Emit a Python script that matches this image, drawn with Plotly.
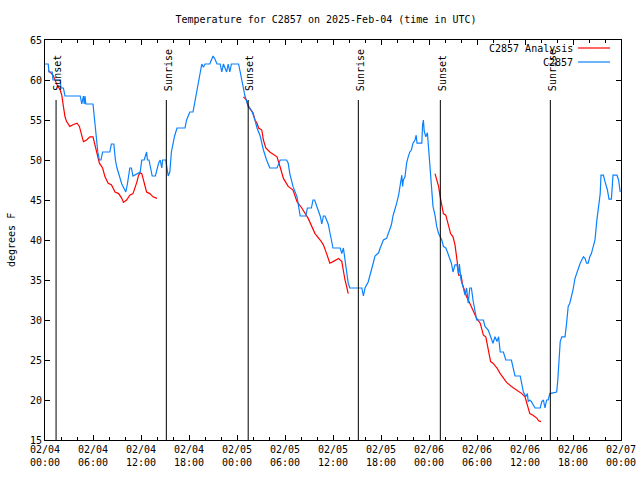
import pandas as pd
import plotly.graph_objects as go

BASE = pd.Timestamp("2025-02-04 00:00")

# Station observations (hours since 2025-02-04 00:00 UTC, degrees F)
obs_hours = [0, 0.4, 0.5, 0.9, 1.0, 1.9, 2.0, 2.3, 2.5, 4.4, 4.6, 4.8, 4.9, 5.0, 5.1, 6.0, 6.2, 6.4, 6.6, 6.8,
             7.0, 7.2, 8.1, 8.3, 8.6, 8.8, 9.0, 9.3, 9.6, 10.1, 10.3, 10.6, 10.8, 11.0, 11.9, 12.1, 12.4, 12.7, 12.8, 13.0,
             13.4, 13.8, 14.2, 14.4, 14.6, 14.7, 15.1, 15.4, 15.6, 15.8, 16.0, 16.2, 16.5, 17.5, 17.7, 18.1, 18.5, 18.75, 19.0, 19.2,
             19.4, 19.6, 19.8, 20.0, 20.6, 20.8, 21.0, 21.25, 21.5, 21.9, 22.1, 22.3, 22.7, 22.9, 23.1, 23.3, 24.2, 24.4, 24.6, 24.8,
             25.0, 25.3, 25.6, 25.9, 26.25, 26.5, 26.9, 27.1, 27.3, 27.7, 28.1, 29.0, 29.4, 30.2, 30.4, 30.6, 31.0, 31.5, 31.9, 32.6,
             32.8, 33.3, 33.5, 33.7, 33.9, 34.4, 34.6, 34.8, 35.0, 35.4, 35.6, 35.8, 36.0, 36.9, 37.1, 37.3, 37.5, 37.7, 37.9, 38.1,
             39.6, 39.8, 40.0, 40.4, 40.6, 40.8, 41.0, 41.25, 41.7, 41.9, 42.3, 42.7, 42.9, 43.1, 43.3, 43.5, 43.75, 43.96, 44.2, 44.4,
             44.5, 44.6, 44.7, 44.8, 45.0, 45.2, 45.4, 45.6, 45.8, 46.0, 46.25, 46.4, 46.5, 47.1, 47.2, 47.3, 47.4, 47.6, 47.8, 47.9,
             48.0, 48.2, 48.3, 48.5, 48.75, 48.96, 49.2, 49.6, 49.8, 50.1, 50.3, 50.5, 50.8, 51.0, 51.25, 51.5, 51.7, 51.8, 52.0, 52.3,
             52.5, 52.7, 52.9, 53.1, 53.3, 53.5, 53.75, 53.96, 54.8, 55.0, 55.4, 55.6, 56.0, 56.25, 56.5, 56.7, 56.9, 57.3, 57.6, 58.3,
             58.5, 58.75, 59.4, 59.6, 59.8, 60.1, 60.3, 60.4, 60.6, 60.8, 61.25, 61.9, 62.1, 62.3, 62.5, 62.7, 62.9, 63.1, 63.96, 64.1,
             64.2, 64.4, 64.6, 65.0, 65.2, 65.4, 65.6, 65.8, 66.0, 66.25, 66.5, 66.7, 66.9, 67.1, 67.3, 67.5, 67.7, 67.9, 68.1, 68.3,
             68.5, 68.75, 68.96, 69.2, 69.4, 69.5, 69.8, 70.0, 70.3, 70.5, 70.8, 71.0, 71.5, 71.7, 71.9]
obs_temps = [62, 62, 61, 61, 60, 60, 59, 59, 58, 58, 57, 58, 57, 58, 57, 57, 55, 53, 51, 50,
             50, 51, 51, 52, 52, 50, 49, 48, 47, 46, 47, 49, 49, 48, 48.5, 50, 50, 51, 50, 50,
             48, 48, 49.6, 50, 49, 50, 50, 48, 48.5, 51, 52, 53, 54, 54, 55, 56, 56, 57.3, 59, 60,
             61, 62, 61.6, 62, 62, 62.6, 63, 62.6, 62, 62, 61, 62, 61, 62, 61, 62, 62, 61, 60, 59,
             58, 57, 56.5, 56, 55, 54, 53, 52, 51.25, 50, 49, 49, 50, 50, 49.6, 48.3, 46.7, 45.4, 43, 43,
             44, 44, 45, 45, 44.4, 43, 42, 43, 43, 42, 41, 40, 39, 39, 38.3, 39, 37.5, 36, 34.6, 34,
             34, 33, 34, 34.75, 35.4, 36.25, 37, 38, 38.4, 39, 40, 40.2, 40.8, 41.25, 41.9, 43, 43.75, 44.6, 45.6, 46.7,
             47.5, 48.1, 46.7, 47.5, 47.9, 49.6, 50.4, 51, 51.25, 52.1, 52.5, 53.1, 52.1, 52.1, 54.4, 55, 53.6, 52.9, 53.4, 52.1,
             49.6, 47.9, 46.25, 44.2, 43.1, 41.7, 40.8, 40, 39.2, 39, 38.5, 37.9, 37.1, 36, 36.9, 36.9, 35.8, 37, 35, 34,
             33.1, 34, 32.1, 34, 34, 32.5, 31.25, 30, 30, 29.2, 28.75, 28.1, 27.1, 27.9, 27.3, 27.9, 26, 26, 25, 25,
             24, 23, 23, 22, 21, 20.4, 20.8, 19.8, 20, 19.8, 19, 19, 19.8, 20, 19, 20, 20, 20.8, 21, 22.5,
             24.2, 27.3, 27.9, 27.9, 29.6, 31.7, 32.1, 32.8, 33.75, 35.2, 36, 36.7, 37.1, 37.5, 37.9, 37.7, 37.1, 37.1, 37.9, 38.3,
             39.2, 40, 42.3, 44.6, 45.8, 48.1, 48.1, 47.3, 46.25, 45.1, 45.1, 48.1, 48.1, 47.5, 46]

# Analysis runs (three separate segments)
ana1_hours = [0.4, 1.0, 1.25, 1.5, 1.9, 2.1, 2.3, 2.5, 2.7, 3.1, 3.5, 4.0, 4.3, 4.6, 4.8, 5.2, 5.6, 6.0, 6.2, 6.5,
              6.8, 7.2, 7.5, 7.9, 8.3, 8.75, 9.2, 9.6, 9.8, 10.2, 10.6, 11.0, 11.25, 11.5, 11.7, 11.9, 12.1, 12.3, 12.5, 12.7,
              13.1, 13.5, 14.0]
ana1_temps = [61.2, 60.6, 60, 59.4, 58.75, 58.1, 56.7, 55.4, 54.8, 54.2, 54.4, 54.6, 54.2, 53.1, 52.3, 52.5, 52.9, 52.9, 52.1, 50.8,
              49.6, 49, 47.9, 47.1, 46.9, 46, 45.8, 45.2, 44.7, 45, 45.6, 45.8, 46.5, 47.3, 48.1, 48.4, 48.3, 47.5, 46.7, 46,
              45.8, 45.4, 45.2]
ana2_hours = [24.8, 25.2, 25.4, 26.0, 26.25, 26.5, 26.7, 27.1, 27.3, 27.6, 28.1, 28.75, 29.0, 29.4, 29.8, 30.4, 31.0, 31.5, 32.1, 32.9,
              33.3, 33.75, 34.4, 34.8, 35.2, 35.6, 36.0, 36.7, 37.1, 37.3, 37.5, 37.7, 37.9]
ana2_temps = [57.9, 57.5, 56.7, 55.9, 55, 54.6, 54, 53.75, 52.5, 51.5, 51, 50.6, 50.4, 49.1, 47.7, 46.7, 46.25, 44.8, 44, 42.7,
              41.7, 40.8, 40, 39.4, 38.3, 37.1, 37.3, 37.7, 37.3, 35.8, 35, 34.2, 33.3]
ana3_hours = [48.75, 48.96, 49.2, 49.4, 49.6, 49.8, 50.1, 50.3, 50.5, 50.7, 51.0, 51.25, 51.5, 51.7, 52.0, 52.2, 52.5, 52.7, 53.0, 53.3,
              53.6, 53.96, 54.4, 54.6, 54.8, 55.1, 55.3, 55.5, 55.7, 56.0, 56.5, 56.9, 57.3, 57.7, 58.3, 58.96, 59.6, 60.0, 60.3, 60.6,
              61.0, 61.5, 61.7, 62.0]
ana3_temps = [48.3, 47.5, 46.7, 45.4, 44.2, 43.3, 43.1, 42.3, 41.7, 40.8, 40.4, 39.4, 37.5, 35.6, 35.6, 34.4, 33.5, 32.9, 32.3, 31.7,
              31, 30.2, 29.6, 28.75, 28.1, 27.9, 26.9, 25.8, 24.8, 24.6, 24, 23.3, 22.7, 22.2, 21.7, 21.25, 20.8, 20.4, 19.4, 18.3,
              18.1, 17.7, 17.4, 17.3]

sun_labels = ["Sunset", "Sunrise", "Sunset", "Sunrise", "Sunset", "Sunrise"]
sun_times = ["2025-02-04 01:23", "2025-02-04 15:10", "2025-02-05 01:24",
             "2025-02-05 15:10", "2025-02-06 01:25", "2025-02-06 15:10"]

tick_times = ["2025-02-04 00:00", "2025-02-04 06:00", "2025-02-04 12:00", "2025-02-04 18:00",
              "2025-02-05 00:00", "2025-02-05 06:00", "2025-02-05 12:00", "2025-02-05 18:00",
              "2025-02-06 00:00", "2025-02-06 06:00", "2025-02-06 12:00", "2025-02-06 18:00",
              "2025-02-07 00:00"]
tick_labels = ["02/04<br>00:00", "02/04<br>06:00", "02/04<br>12:00", "02/04<br>18:00",
               "02/05<br>00:00", "02/05<br>06:00", "02/05<br>12:00", "02/05<br>18:00",
               "02/06<br>00:00", "02/06<br>06:00", "02/06<br>12:00", "02/06<br>18:00",
               "02/07<br>00:00"]

series_names = ["C2857 Analysis", "C2857"]
series_colors = ["#ff0000", "#0a80ff"]

FONT = "DejaVu Sans Mono"

# plot-area geometry in screenshot pixels
PL, PR, PT, PB = 45, 621, 40, 440
PW, PH = PR - PL, PB - PT
W, H = 640, 480


def to_time(hours):
    return BASE + pd.to_timedelta(hours, unit="h")


fig = go.Figure()
for hrs, vals in [(ana1_hours, ana1_temps), (ana2_hours, ana2_temps), (ana3_hours, ana3_temps)]:
    fig.add_trace(go.Scatter(x=to_time(hrs), y=vals, mode="lines",
                             line=dict(color=series_colors[0], width=1.2),
                             showlegend=False, hoverinfo="skip"))
fig.add_trace(go.Scatter(x=to_time(obs_hours), y=obs_temps, mode="lines",
                         line=dict(color=series_colors[1], width=1.2),
                         showlegend=False, hoverinfo="skip"))

shapes = []
annotations = []
for lab, t in zip(sun_labels, sun_times):
    shapes.append(dict(type="line", xref="x", yref="y", x0=t, x1=t, y0=15, y1=57.5,
                       line=dict(color="black", width=1)))
    annotations.append(dict(x=t, y=58.4, xref="x", yref="y", text=lab, textangle=-90,
                            showarrow=False, xanchor="center", yanchor="bottom", xshift=2,
                            font=dict(family=FONT, size=10, color="black")))

# gnuplot-style key (text right aligned, sample to the right)
key_rows = [48, 62]
for name, col, ypx in zip(series_names, series_colors, key_rows):
    yp = 1 - (ypx - PT) / PH
    annotations.append(dict(x=(575 - PL) / PW, y=yp, xref="paper", yref="paper", text=name,
                            showarrow=False, xanchor="right", yanchor="middle",
                            font=dict(family=FONT, size=10, color="black")))
    shapes.append(dict(type="line", xref="paper", yref="paper",
                       x0=(578 - PL) / PW, x1=(610 - PL) / PW, y0=yp, y1=yp,
                       line=dict(color=col, width=1.2)))

annotations.append(dict(x=(11 - PL) / PW, y=0.5, xref="paper", yref="paper", text="degrees F",
                        textangle=-90, showarrow=False, xanchor="center", yanchor="middle",
                        font=dict(family=FONT, size=10, color="black")))

fig.update_layout(
    width=W, height=H,
    margin=dict(l=PL, r=W - PR, t=PT, b=H - PB, autoexpand=False),
    paper_bgcolor="white", plot_bgcolor="white",
    title=dict(text="Temperature for C2857 on 2025-Feb-04 (time in UTC)",
               x=326 / W, xanchor="center", xref="container",
               y=1 - 19 / H, yanchor="middle", yref="container",
               font=dict(family=FONT, size=10, color="black")),
    shapes=shapes, annotations=annotations,
    showlegend=False,
)
fig.update_xaxes(range=[tick_times[0], tick_times[-1]], tickvals=tick_times, ticktext=tick_labels,
                 showgrid=False, zeroline=False, showline=True, linecolor="black", linewidth=1,
                 mirror="ticks", ticks="inside", ticklen=5, tickcolor="black", automargin=False,
                 minor=dict(dtick=2 * 3600 * 1000, ticks="inside", ticklen=3, tickcolor="black", showgrid=False),
                 tickfont=dict(family=FONT, size=10, color="black"))
fig.update_yaxes(range=[15, 65], dtick=5, tick0=15,
                 showgrid=False, zeroline=False, showline=True, linecolor="black", linewidth=1,
                 mirror="ticks", ticks="inside", ticklen=5, tickcolor="black", automargin=False,
                 tickfont=dict(family=FONT, size=10, color="black"))

fig.write_html("out.html", config={"displayModeBar": False, "staticPlot": True},
               post_script="document.body.style.margin='0';document.body.style.overflow='hidden';")
